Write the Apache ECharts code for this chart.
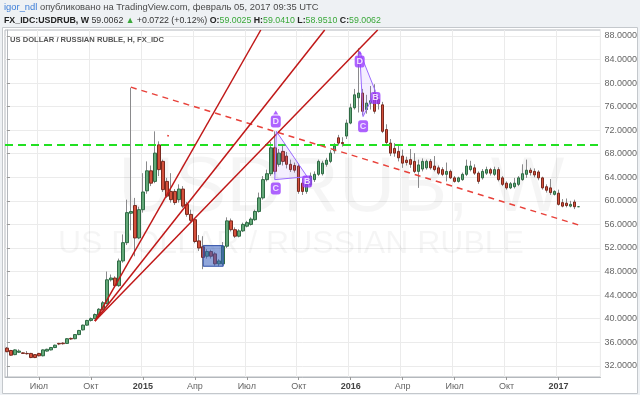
<!DOCTYPE html>
<html><head><meta charset="utf-8">
<script src="https://cdn.jsdelivr.net/npm/echarts@6/dist/echarts.min.js"></script>
<style>html,body{margin:0;padding:0;background:#eef1f4}#c{width:640px;height:395px}</style>
</head><body><div id="c"></div>
<script>
// ---- data (weekly USD/RUB) ----
const startDate = '2014-05-12';
const weekCount = 149;
const opens  = [35.0,34.6,33.9,34.3,34.2,34.1,34.1,33.9,34.1,33.7,34.5,34.7,35.1,35.8,35.85,35.8,36.65,36.6,37.3,38.1,38.9,39.7,40.0,40.6,41.6,42.6,46.6,46.9,45.6,49.8,52.9,57.9,59.2,53.7,58.5,61.7,65.1,63.3,69.5,66.7,63.3,61.6,61.6,60.2,62.0,59.4,57.7,56.8,53.2,52.2,50.6,51.4,51.0,49.3,49.3,52.3,56.6,55.1,54.0,54.9,55.7,56.0,56.8,58.2,60.5,63.6,64.6,69.0,66.2,68.4,67.6,66.2,66.0,65.9,63.0,61.6,62.8,63.6,64.5,64.6,66.2,66.7,68.5,70.7,69.9,71.0,73.2,75.8,77.5,78.3,75.5,76.6,78.3,77.2,76.3,72.1,69.8,68.9,68.4,67.6,66.9,67.0,66.7,65.0,65.4,65.6,66.7,65.9,65.6,65.3,64.5,65.0,63.9,63.3,63.6,64.5,65.3,65.6,64.7,63.9,64.7,65.3,64.5,65.3,63.9,63.0,62.2,62.4,62.8,63.6,64.5,65.2,65.0,64.9,63.9,62.4,62.2,61.1,61.3,59.7,59.6,59.1,59.8,59.0025];
const closes = [34.4,33.8,34.7,34.5,34.1,34.05,33.4,33.4,33.7,34.7,34.8,35.1,35.5,35.7,35.75,36.6,36.55,37.3,38.0,38.9,39.7,40.0,40.7,41.6,42.7,46.6,46.9,45.6,49.8,52.9,58.0,58.2,53.7,58.5,61.5,65.1,63.0,68.1,65.3,61.9,60.8,60.2,59.7,62.0,59.1,57.7,56.7,53.1,52.0,50.4,51.4,50.6,49.3,49.8,52.3,56.6,55.1,54.0,54.9,56.0,56.3,56.9,58.2,60.5,63.6,64.6,69.0,65.0,68.1,66.7,66.2,65.3,65.2,61.6,61.6,62.8,64.2,64.5,66.7,66.4,66.9,68.1,69.3,69.8,69.7,73.2,75.8,78.0,78.3,75.2,76.6,77.0,75.2,76.5,71.8,69.9,68.1,68.1,67.3,66.4,66.5,66.2,65.0,66.1,66.7,66.7,65.6,65.3,64.7,64.5,65.0,63.9,63.3,63.9,64.5,65.9,65.9,64.7,63.3,65.0,65.3,64.7,65.3,63.6,62.8,62.2,62.9,63.0,63.9,64.6,65.2,64.8,64.4,63.9,62.2,61.8,61.4,61.6,59.4,59.1,59.2,59.4,59.0,59.0062];
const lows   = [34.3,33.7,33.8,34.2,34.0,33.9,33.3,33.3,33.6,33.6,34.4,34.6,35.0,35.5,35.6,35.7,36.4,36.5,37.2,38.0,38.8,39.5,39.9,40.5,41.5,42.4,46.3,45.3,45.4,49.5,52.5,55.0,50.6,53.5,58.0,61.2,62.5,63.0,64.2,61.5,60.5,59.7,59.3,59.7,58.8,57.3,56.3,52.8,51.5,48.4,50.2,50.2,49.0,48.9,49.0,52.0,54.8,53.7,53.8,54.7,55.5,55.8,56.6,58.0,60.2,63.3,64.2,64.5,65.8,66.0,65.5,64.9,64.8,61.2,61.0,61.2,62.4,63.2,64.2,64.3,65.8,66.4,68.0,69.4,69.2,70.5,73.0,75.5,75.0,74.5,74.8,75.5,74.8,75.5,71.5,69.5,67.6,67.5,66.7,65.6,66.0,65.6,64.7,62.2,65.0,65.3,65.3,65.0,64.4,64.2,63.3,63.7,63.1,63.1,63.4,64.2,65.0,64.4,62.9,63.6,64.4,64.3,64.2,63.3,62.5,61.9,62.0,62.1,62.5,63.4,63.9,64.3,64.0,63.5,61.9,61.4,61.0,60.9,59.2,58.9,58.9,58.9,58.6,58.951];
const highs  = [35.2,34.7,34.8,34.8,34.3,34.5,34.2,34.0,34.2,34.8,34.9,35.2,35.6,35.9,36.0,36.7,36.8,37.4,38.1,39.0,39.8,40.2,40.9,41.8,43.0,48.0,47.5,47.2,50.2,54.3,60.2,79.2,60.5,59.0,64.7,66.7,66.0,71.8,70.1,67.0,63.9,64.7,62.0,62.8,62.5,59.8,58.5,57.0,54.2,54.0,51.8,51.7,51.3,50.1,53.0,57.2,57.0,55.5,55.2,56.3,56.6,57.2,58.5,61.4,64.2,65.3,70.0,71.8,68.8,69.5,68.3,67.0,66.5,66.3,63.8,63.2,64.8,65.0,67.0,66.8,67.3,68.6,69.8,71.2,70.8,73.8,76.5,79.0,85.9,79.0,78.0,79.5,79.8,77.8,76.8,73.0,70.5,69.8,69.3,68.7,67.5,68.8,68.1,67.0,67.2,67.0,67.1,67.6,66.0,65.7,66.5,65.3,64.2,64.1,64.8,67.0,66.8,66.2,65.0,65.4,65.8,65.6,65.8,65.7,64.2,63.3,63.2,63.9,64.2,66.2,67.0,65.6,65.5,65.2,64.1,62.8,63.7,61.8,61.9,60.3,60.4,60.0,60.2,59.041];
const yTicks = [32,36,40,44,48,52,56,60,64,68,72,76,80,84,88];
const monthNames = {4:'Апр', 7:'Июл', 10:'Окт'};
const levelPrice = 69.4773;
const lastPrice = 59.0062;
const trendLine = [[31, 79.3], [144, 55.7]];
const fanOrigin = [22, 39.6];
const fanEnds = [[63.5, 89.0], [79.5, 89.0], [92.75, 89.0]];
const redTick = [[40.1, 71.1], [40.5, 71.0]];
const patternPoints = [
  [[67.4, 71.8], [67.0, 63.6], [75.1, 64.1]],
  [[88.25, 85.3], [89.1, 74.3], [92.2, 78.6]]
];
const patternLabels = [
  ['D', 67.25, 73.45], ['C', 67.25, 62.1], ['B', 75.1, 63.3],
  ['D', 88.25, 83.65], ['C', 89.1, 72.65], ['B', 92.2, 77.46]
];
const blueBox = [[49.1, 52.4], [54.1, 48.9]];

// ---- build ----
const cats = [];
const t0 = Date.UTC(2014, 4, 12);
for (let i = 0; i < weekCount; i++) {
  cats.push(new Date(t0 + i * 7 * 86400000).toISOString().slice(0, 10));
}
const showTick = (i, v) => { const m = +v.slice(5, 7), d = +v.slice(8, 10); return (m % 3 === 1) && d <= 7; };
const wickData = opens.map((o, i) => [o, closes[i], lows[i], highs[i]]);
const bodyData = opens.map((o, i) => [o, closes[i], Math.min(o, closes[i]), Math.max(o, closes[i])]);

const chart = echarts.init(document.getElementById('c'), null, {renderer: 'canvas'});
const FONT = 'Liberation Sans, Arial, sans-serif';
const lineSeries = (data, color, type, width) => ({
  type: 'line', xAxisIndex: 1, data: data, symbol: 'none', silent: true, clip: true,
  lineStyle: {color: color, width: width, type: type}, z: 5, animation: false
});

chart.setOption({
  animation: false,
  backgroundColor: 'transparent',
  grid: {left: 5, right: 39, top: 30, bottom: 18, show: true, borderColor: '#b4b8bd', borderWidth: 1, backgroundColor: '#fff'},
  graphic: [
    {type: 'rect', left: 2, top: 27, shape: {width: 635, height: 366}, style: {fill: '#fff', stroke: '#c4c8cc'}, z: -10, silent: true},
    {type: 'text', left: 4, top: 3, style: {text: '{u|igor_ndl} опубликовано на TradingView.com, февраль 05, 2017 09:35 UTC', font: '9.4px ' + FONT, fill: '#4a4a4a', rich: {u: {fill: '#3b7dd8', font: '9.4px ' + FONT}}}},
    {type: 'text', left: 4, top: 16, style: {
      text: '{b|FX_IDC:USDRUB, W} 59.0062 {g|▲} +0.0722 (+0.12%) {b|O:}{g|59.0025} {b|H:}{g|59.0410} {b|L:}{g|58.9510} {b|C:}{g|59.0062}',
      font: '8.8px ' + FONT, fill: '#333', rich: {b: {font: 'bold 8.8px ' + FONT, fill: '#222'}, g: {font: '8.8px ' + FONT, fill: '#3aa83a'}}}},
    {type: 'text', left: 10, top: 36, z: 10, style: {text: 'US DOLLAR / RUSSIAN RUBLE, H, FX_IDC', font: 'bold 7.6px ' + FONT, fill: '#555'}},
    {type: 'text', left: 118, top: 150, z: 1, silent: true, style: {text: 'USDRUB, W', font: '78px ' + FONT, fill: 'rgba(0,0,0,0.04)'}},
    {type: 'text', left: 58, top: 228, z: 1, silent: true, style: {text: 'US DOLLAR / RUSSIAN RUBLE', font: '32px ' + FONT, fill: 'rgba(0,0,0,0.04)'}}
  ],
  xAxis: [
    {type: 'category', data: cats, boundaryGap: true, gridIndex: 0,
     axisLine: {show: true, lineStyle: {color: '#b4b8bd'}},
     axisTick: {show: true, interval: showTick, alignWithLabel: true, length: 3, lineStyle: {color: '#999'}},
     axisLabel: {interval: showTick, color: '#666', fontSize: 9, fontFamily: FONT, margin: 5,
       formatter: v => { const m = +v.slice(5, 7); return m === 1 ? '{y|' + v.slice(0, 4) + '}' : monthNames[m]; },
       rich: {y: {fontWeight: 'bold', color: '#444', fontSize: 9, fontFamily: FONT}}},
     splitLine: {show: true, interval: showTick, lineStyle: {color: '#ebebeb'}}},
    {type: 'value', min: -0.5, max: weekCount - 0.5, show: false, gridIndex: 0}
  ],
  yAxis: {type: 'value', position: 'right', min: 30.1, max: 89.0, scale: true,
    axisLine: {show: true, lineStyle: {color: '#b4b8bd'}},
    axisTick: {show: true, customValues: yTicks, length: 3, lineStyle: {color: '#999'}},
    axisLabel: {customValues: yTicks, color: '#666', fontSize: 9, fontFamily: FONT, margin: 4, formatter: v => v.toFixed(4)},
    splitLine: {show: true, lineStyle: {color: '#ebebeb'}}},
  series: [
    {type: 'candlestick', name: 'wick', data: wickData, barWidth: 1, silent: true, z: 2,
     itemStyle: {color: '#8a8a8c', color0: '#8a8a8c', borderColor: '#8a8a8c', borderColor0: '#8a8a8c', borderWidth: 1}},
    {type: 'candlestick', name: 'body', data: bodyData, barWidth: 3, silent: true, z: 3,
     itemStyle: {color: '#62a877', color0: '#d4503b', borderColor: '#2f6b45', borderColor0: '#7a2a1f', borderWidth: 1}},
    lineSeries(trendLine, '#e8413a', [6, 5], 1.5),
    ...fanEnds.map(e => lineSeries([fanOrigin, e], '#c01818', 'solid', 1.5)),
    lineSeries(redTick, '#e8413a', 'solid', 1.5),
    {type: 'line', xAxisIndex: 1, data: [[-0.5, levelPrice], [weekCount - 0.5, levelPrice]], symbol: 'none', silent: true, z: 4,
     lineStyle: {color: '#22e022', type: [8, 5], width: 2},
     markLine: {silent: true, symbol: 'none', animation: false,
       data: [
         {yAxis: levelPrice, lineStyle: {opacity: 0},
          label: {show: true, position: 'end', distance: 1, formatter: levelPrice.toFixed(4), backgroundColor: '#1ee61e', color: '#1a1a1a', fontSize: 9, fontFamily: FONT, padding: [2, 2, 1, 2]}},
         {yAxis: lastPrice, lineStyle: {opacity: 0},
          label: {show: true, position: 'end', distance: 1, formatter: lastPrice.toFixed(4), backgroundColor: '#4b9469', color: '#fff', fontSize: 9, fontFamily: FONT, padding: [2, 2, 1, 2]}}
       ]}},
    {type: 'custom', xAxisIndex: 1, silent: true, z: 6, clip: true,
     data: patternPoints.map(p => [p[0][0], p[0][1], p[1][0], p[1][1], p[2][0], p[2][1]]),
     renderItem: (params, api) => {
       const pts = [0, 2, 4].map(j => api.coord([api.value(j), api.value(j + 1)]));
       return {type: 'polygon', shape: {points: pts}, style: {fill: 'rgba(150,90,255,0.10)', stroke: '#9b6bff', lineWidth: 1}};
     }},
    {type: 'custom', xAxisIndex: 1, silent: true, z: 7, clip: true,
     data: [[blueBox[0][0], blueBox[0][1], blueBox[1][0], blueBox[1][1]]],
     renderItem: (params, api) => {
       const a = api.coord([api.value(0), api.value(1)]), b = api.coord([api.value(2), api.value(3)]);
       return {type: 'rect', shape: {x: a[0], y: a[1], width: b[0] - a[0], height: b[1] - a[1]}, style: {fill: 'rgba(55,95,190,0.55)', stroke: '#2f4fa8', lineWidth: 1}};
     }},
    {type: 'scatter', xAxisIndex: 1, silent: true, z: 8,
     data: patternLabels.filter(l => l[0] === 'D').map(l => [l[1], l[2]]),
     symbol: 'triangle', symbolSize: [5, 4], symbolOffset: [0, -9],
     itemStyle: {color: '#9a3cff'}},
    {type: 'scatter', xAxisIndex: 1, silent: true, z: 8,
     data: patternLabels.map(l => ({value: [l[1], l[2]], name: l[0]})),
     symbol: 'roundRect', symbolSize: [10, 12],
     itemStyle: {color: '#9a3cff'},
     label: {show: true, position: 'inside', formatter: p => p.name, color: '#fff', fontSize: 9, fontWeight: 'bold', fontFamily: FONT}}
  ]
});
</script></body></html>
